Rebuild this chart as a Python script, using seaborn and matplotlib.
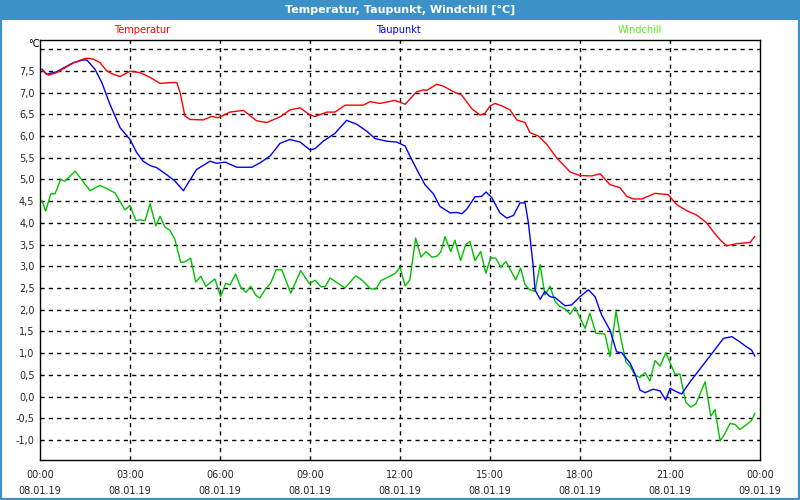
import pandas as pd
import matplotlib.pyplot as plt
import seaborn as sns
from matplotlib.patches import Rectangle

# Readings for 08.01.19, hours since midnight
temp_hours = [0.06, 0.28, 0.56, 1.11, 1.44, 1.56, 1.78, 2.0, 2.22, 2.44, 2.67, 3.0, 3.33, 3.67,
              4.0, 4.33, 4.56, 4.67, 4.83, 5.0, 5.44, 5.72, 5.94, 6.33, 6.78, 7.22, 7.56, 8.0,
              8.33, 8.67, 9.0, 9.17, 9.56, 9.83, 10.17, 10.56, 10.78, 11.0, 11.33, 11.83, 12.17,
              12.56, 12.78, 12.89, 13.22, 13.44, 13.78, 14.06, 14.39, 14.67, 14.83, 15.0, 15.17,
              15.44, 15.67, 15.89, 16.17, 16.33, 16.61, 16.89, 17.22, 17.67, 18.0, 18.39, 18.67,
              19.0, 19.33, 19.56, 19.78, 20.06, 20.5, 20.94, 21.22, 21.56, 21.89, 22.22, 22.44,
              22.67, 22.89, 23.22, 23.67, 23.83]
temp_values = [7.52, 7.40, 7.46, 7.68, 7.77, 7.79, 7.77, 7.69, 7.50, 7.42, 7.37, 7.49, 7.46, 7.35,
               7.21, 7.23, 7.23, 7.00, 6.46, 6.38, 6.37, 6.45, 6.42, 6.55, 6.59, 6.35, 6.31, 6.44,
               6.60, 6.65, 6.48, 6.45, 6.55, 6.55, 6.71, 6.71, 6.71, 6.79, 6.75, 6.82, 6.73,
               7.02, 7.06, 7.05, 7.19, 7.15, 7.02, 6.94, 6.63, 6.48, 6.52, 6.69, 6.75,
               6.68, 6.60, 6.37, 6.31, 6.08, 6.00, 5.81, 5.50, 5.17, 5.09, 5.08, 5.13,
               4.88, 4.81, 4.61, 4.55, 4.55, 4.68, 4.65, 4.42, 4.28, 4.18, 4.00, 3.80,
               3.61, 3.47, 3.52, 3.55, 3.69]

dew_hours = [0.06, 0.22, 0.56, 1.11, 1.44, 1.56, 1.83, 2.06, 2.33, 2.67, 3.0, 3.22, 3.44, 3.67,
             3.89, 4.22, 4.5, 4.78, 4.94, 5.22, 5.67, 5.89, 6.17, 6.56, 7.06, 7.33, 7.67, 8.0,
             8.33, 8.67, 9.0, 9.17, 9.44, 9.83, 10.22, 10.56, 10.89, 11.17, 11.56, 11.89, 12.17,
             12.33, 12.56, 12.83, 13.11, 13.33, 13.67, 13.89, 14.06, 14.22, 14.5, 14.72, 14.87,
             15.06, 15.33, 15.56, 15.78, 16.0, 16.17, 16.28, 16.44, 16.5, 16.67, 16.83, 17.0,
             17.17, 17.5, 17.72, 18.0, 18.28, 18.5, 18.72, 19.0, 19.22, 19.39, 19.67, 19.83,
             20.0, 20.17, 20.44, 20.67, 20.86, 21.0, 21.22, 21.39, 21.67, 22.06, 22.44, 22.78,
             23.06, 23.33, 23.56, 23.72, 23.83]
dew_values = [7.54, 7.42, 7.48, 7.69, 7.75, 7.75, 7.54, 7.23, 6.73, 6.19, 5.92, 5.62, 5.42, 5.32,
              5.27, 5.11, 4.96, 4.74, 4.92, 5.23, 5.42, 5.37, 5.40, 5.28, 5.28, 5.38, 5.54, 5.83,
              5.92, 5.86, 5.68, 5.71, 5.88, 6.06, 6.36, 6.27, 6.11, 5.94, 5.88, 5.86, 5.77,
              5.54, 5.23, 4.88, 4.67, 4.38, 4.23, 4.24, 4.21, 4.31, 4.60, 4.61, 4.71,
              4.58, 4.23, 4.11, 4.17, 4.46, 4.46, 4.00, 3.00, 2.46, 2.24, 2.42, 2.30,
              2.28, 2.09, 2.11, 2.30, 2.46, 2.30, 1.88, 1.53, 1.03, 1.01, 0.77, 0.53,
              0.15, 0.09, 0.17, 0.13, -0.08, 0.19, 0.11, 0.06, 0.34, 0.69, 1.03, 1.34,
              1.38, 1.26, 1.14, 1.07, 0.93]

chill_hours = [0.06, 0.19, 0.36, 0.5, 0.69, 0.83, 1.17, 1.67, 1.98, 2.17, 2.5, 2.83, 3.0, 3.2,
               3.33, 3.5, 3.67, 3.86, 4.0, 4.17, 4.33, 4.5, 4.69, 4.83, 5.02, 5.19, 5.36, 5.53,
               5.83, 6.02, 6.19, 6.33, 6.52, 6.69, 6.87, 7.02, 7.2, 7.33, 7.52, 7.69, 7.87, 8.06,
               8.36, 8.69, 8.98, 9.17, 9.36, 9.5, 9.67, 10.17, 10.52, 10.72, 11.02, 11.2, 11.37,
               11.83, 12.0, 12.17, 12.33, 12.52, 12.7, 12.87, 13.06, 13.22, 13.36, 13.5, 13.69,
               13.83, 14.02, 14.19, 14.33, 14.5, 14.69, 14.86, 15.02, 15.19, 15.36, 15.53, 15.86,
               16.02, 16.17, 16.33, 16.5, 16.67, 16.83, 17.0, 17.17, 17.33, 17.5, 17.67, 17.83,
               18.17, 18.33, 18.53, 18.83, 19.0, 19.2, 19.37, 19.53, 19.67, 19.83, 20.0, 20.17,
               20.33, 20.5, 20.67, 20.86, 21.17, 21.33, 21.52, 21.69, 21.86, 22.17, 22.36, 22.5,
               22.67, 22.8, 23.0, 23.17, 23.33, 23.56, 23.72, 23.83]
chill_values = [4.52, 4.27, 4.67, 4.67, 5.00, 4.96, 5.19, 4.74, 4.86, 4.81, 4.69, 4.30, 4.40, 4.05,
                4.07, 4.05, 4.44, 3.93, 4.15, 3.90, 3.83, 3.61, 3.09, 3.10, 3.19, 2.64, 2.77, 2.54,
                2.71, 2.30, 2.61, 2.57, 2.82, 2.52, 2.40, 2.54, 2.33, 2.27, 2.48, 2.61, 2.92, 2.92,
                2.38, 2.90, 2.60, 2.68, 2.53, 2.53, 2.73, 2.50, 2.78, 2.69, 2.48, 2.48, 2.67,
                2.83, 2.98, 2.55, 2.69, 3.65, 3.21, 3.34, 3.21, 3.23, 3.33, 3.68, 3.34,
                3.60, 3.13, 3.50, 3.57, 3.13, 3.34, 2.84, 3.19, 3.19, 2.98, 3.11, 2.69,
                2.96, 2.57, 2.46, 2.42, 3.04, 2.34, 2.54, 2.19, 2.07, 2.02, 1.90, 2.06,
                1.57, 1.92, 1.46, 1.44, 0.92, 1.96, 1.31, 0.80, 0.69, 0.50, 0.44, 0.55,
                0.36, 0.83, 0.70, 1.01, 0.51, 0.52, -0.12, -0.24, -0.17, 0.34, -0.45, -0.30,
                -1.02, -0.89, -0.62, -0.64, -0.76, -0.64, -0.55, -0.38]

x_ticks = [0, 3, 6, 9, 12, 15, 18, 21, 24]
x_labels = ["00:00\n08.01.19", "03:00\n08.01.19", "06:00\n08.01.19", "09:00\n08.01.19",
            "12:00\n08.01.19", "15:00\n08.01.19", "18:00\n08.01.19", "21:00\n08.01.19",
            "00:00\n09.01.19"]
y_ticks = [-1.0, -0.5, 0.0, 0.5, 1.0, 1.5, 2.0, 2.5, 3.0, 3.5, 4.0, 4.5, 5.0, 5.5, 6.0, 6.5, 7.0, 7.5]

sns.set_style("white")
plt.rcParams['font.family'] = ['DejaVu Sans']

fig = plt.figure(figsize=(8, 5), dpi=100)
fig.patch.set_facecolor('white')
ax = fig.add_axes([40 / 800, 40 / 500, 720 / 800, 420 / 500])

temp_df = pd.DataFrame({'hour': temp_hours, 'value': temp_values})
dew_df = pd.DataFrame({'hour': dew_hours, 'value': dew_values})
chill_df = pd.DataFrame({'hour': chill_hours, 'value': chill_values})

sns.lineplot(data=chill_df, x='hour', y='value', ax=ax, color='#00c000', linewidth=1, zorder=3)
sns.lineplot(data=dew_df, x='hour', y='value', ax=ax, color='#0000ff', linewidth=1, zorder=4)
sns.lineplot(data=temp_df, x='hour', y='value', ax=ax, color='#ff0000', linewidth=1, zorder=5)

ax.set_xlim(0, 24)
ax.set_ylim(-1.46, 8.21)
ax.set_xlabel('')
ax.set_ylabel('')

# grid lines
for h in x_ticks[1:-1]:
    ax.axvline(h, color='black', linestyle=(0, (3, 3)), linewidth=1, zorder=1)
for v in y_ticks + [8.0]:
    ax.axhline(v, color='black', linestyle=(0, (3, 3)), linewidth=1, zorder=1)

ax.set_xticks(x_ticks)
ax.set_xticklabels(x_labels, fontsize=7, linespacing=1.75)
ax.set_xticks(range(25), minor=True)
ax.tick_params(axis='x', which='major', direction='out', length=4, pad=3, color='black')
ax.tick_params(axis='x', which='minor', direction='out', length=3, color='black')
ax.set_yticks(y_ticks)
ax.set_yticklabels([f"{v:.1f}".replace('.', ',') for v in y_ticks], fontsize=7)
ax.tick_params(axis='y', length=0, pad=4)

for s in ax.spines.values():
    s.set_color('black')
    s.set_linewidth(1)
    s.set_visible(True)

# header bar, frame and series labels
fig.patches.append(Rectangle((0, 480 / 500), 1, 20 / 500, transform=fig.transFigure,
                             facecolor='#3c91c6', edgecolor='none', zorder=0))
fig.patches.append(Rectangle((0, 0), 1, 1, transform=fig.transFigure,
                             facecolor='none', edgecolor='#3c91c6', linewidth=3, zorder=0))
fig.text(0.5, 490 / 500, "Temperatur, Taupunkt, Windchill [°C]", color='white',
         fontsize=8, fontweight='bold', ha='center', va='center')
fig.text(142 / 800, 470 / 500, "Temperatur", color='#ff0000', fontsize=7, ha='center', va='center')
fig.text(398 / 800, 470 / 500, "Taupunkt", color='#0000ff', fontsize=7, ha='center', va='center')
fig.text(640 / 800, 470 / 500, "Windchill", color='#55ee22', fontsize=7, ha='center', va='center')
fig.text(34 / 800, 456 / 500, "°C", color='black', fontsize=7, ha='center', va='center')

fig.savefig('out.png', dpi=100)
